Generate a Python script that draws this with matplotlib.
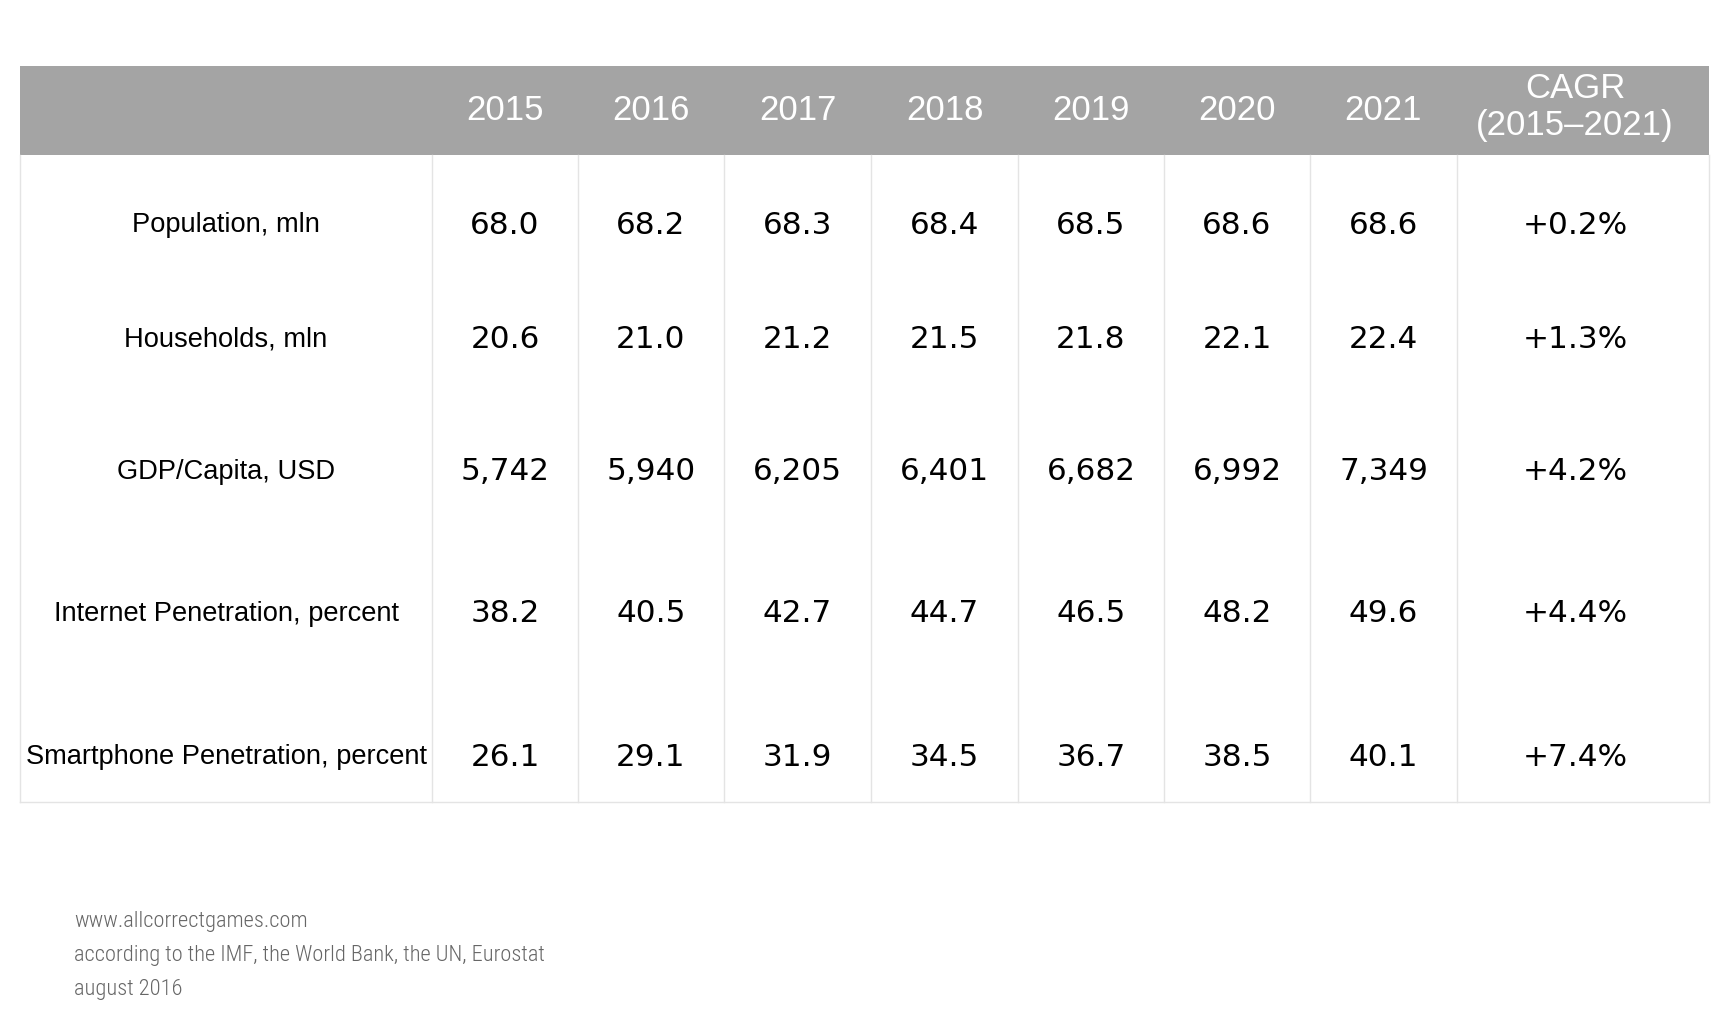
import matplotlib
matplotlib.use("Agg")
import matplotlib.pyplot as plt
from matplotlib.patches import Rectangle
from matplotlib import font_manager as fm

# ---- data ----
years = ["2015", "2016", "2017", "2018", "2019", "2020", "2021"]
indicators = ["Population, mln", "Households, mln", "GDP/Capita, USD",
              "Internet Penetration, percent", "Smartphone Penetration, percent"]
population = [68.0, 68.2, 68.3, 68.4, 68.5, 68.6, 68.6]
households = [20.6, 21.0, 21.2, 21.5, 21.8, 22.1, 22.4]
gdp_per_capita = [5742, 5940, 6205, 6401, 6682, 6992, 7349]
internet_pen = [38.2, 40.5, 42.7, 44.7, 46.5, 48.2, 49.6]
smartphone_pen = [26.1, 29.1, 31.9, 34.5, 36.7, 38.5, 40.1]
cagr = ["+0.2%", "+1.3%", "+4.2%", "+4.4%", "+7.4%"]
cagr_header = "CAGR\n(2015\u20132021)"
footer_lines = ["www.allcorrectgames.com",
                "according to the IMF, the World Bank, the UN, Eurostat",
                "august 2016"]

rows = [
    [f"{v:.1f}" for v in population],
    [f"{v:.1f}" for v in households],
    [f"{v:,}" for v in gdp_per_capita],
    [f"{v:.1f}" for v in internet_pen],
    [f"{v:.1f}" for v in smartphone_pen],
]

# condensed font for the footer
installed = {f.name for f in fm.fontManager.ttflist}
footer_family = "DejaVu Sans"
for cand in ["Roboto Condensed", "Barlow Condensed", "Fira Sans Extra Condensed",
             "Pathway Gothic One", "Fira Sans Condensed", "Oswald",
             "Liberation Sans Narrow"]:
    if cand in installed:
        footer_family = cand
        break

# ---- layout (pixel coordinates) ----
W, H = 1734, 1024
fig = plt.figure(figsize=(W / 100, H / 100), dpi=100)
ax = fig.add_axes([0, 0, 1, 1])
ax.set_xlim(0, W)
ax.set_ylim(H, 0)
ax.axis("off")

left, right = 20, 1709
top, head_bot, bot = 66, 155, 802
col_edges = [left, 432, 578, 724, 871, 1018, 1164, 1310, 1457, right]
row_y = [225, 340, 472, 614, 757]
grid_c = "#e4e4e4"

ax.add_patch(Rectangle((left, top), right - left, head_bot - top,
                       facecolor="#a4a4a4", edgecolor="none"))
for x in col_edges[1:-1]:
    ax.plot([x, x], [head_bot, bot], color=grid_c, lw=1.0)
ax.plot([left, left], [head_bot, bot], color=grid_c, lw=1.0)
ax.plot([right, right], [head_bot, bot], color=grid_c, lw=1.0)
ax.plot([left, right], [bot, bot], color=grid_c, lw=1.0)

centers = [(col_edges[i] + col_edges[i + 1]) / 2 for i in range(len(col_edges) - 1)]
cagr_x = 1575

hdr_font = dict(family="Liberation Sans", color="white", ha="center", va="center")
for i, y in enumerate(years):
    ax.text(centers[i + 1], 110, y, fontsize=25, **hdr_font)
ax.text(cagr_x, 107, cagr_header, fontsize=25, linespacing=1.12, **hdr_font)

for r, (lab, vals) in enumerate(zip(indicators, rows)):
    yy = row_y[r]
    ax.text(centers[0], yy, lab, fontsize=19.6, family="Liberation Sans",
            ha="center", va="center", color="black")
    for i, v in enumerate(vals):
        ax.text(centers[i + 1], yy, v, fontsize=22.4, family="DejaVu Sans",
                ha="center", va="center", color="black")
    ax.text(cagr_x, yy, cagr[r], fontsize=22.4, family="DejaVu Sans",
            ha="center", va="center", color="black")

# footer: size chosen so the longest line spans the reference width
renderer = fig.canvas.get_renderer()
probe = ax.text(0, 0, footer_lines[1], fontsize=20, family=footer_family)
wpx = probe.get_window_extent(renderer).width
probe.remove()
fsize = 20 * 477 / wpx
for k, line in enumerate(footer_lines):
    ax.text(74, 922 + 33.5 * k, line, fontsize=fsize,
            family=footer_family, color="#666666", fontweight="light",
            ha="left", va="center")

fig.savefig("out.png", dpi=100, facecolor="white")
